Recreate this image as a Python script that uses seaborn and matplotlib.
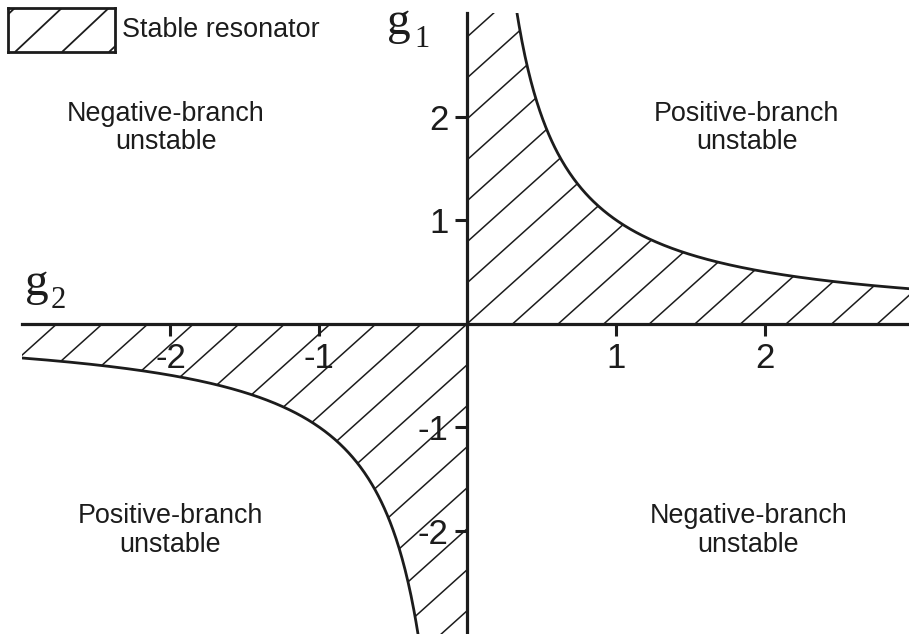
import numpy as np
import matplotlib
matplotlib.use("Agg")
import matplotlib.pyplot as plt
from matplotlib.collections import LineCollection
from matplotlib.patches import PathPatch
from matplotlib.path import Path
import seaborn as sns

# Stability condition 0 < g1*g2 < 1; the boundary is the hyperbola g1*g2 = 1
boundary_product = 1.0
g_limit = 3.0
tick_values = [-2, -1, 1, 2]
tick_labels = ["-2", "-1", "1", "2"]
region_texts = [
    "Negative-branch\nunstable",
    "Positive-branch\nunstable",
    "Positive-branch\nunstable",
    "Negative-branch\nunstable",
]
legend_label = "Stable resonator"

sns.set_theme(style="white")
plt.rcParams["font.family"] = ["Liberation Sans", "DejaVu Sans"]
plt.rcParams["axes.unicode_minus"] = False

W, H = 909, 634
INK = "#1c1c1c"
fig = plt.figure(figsize=(W / 100, H / 100), dpi=100)
fig.patch.set_facecolor("white")

# axes: g2 = -3 at 22 px, 148.5 px per unit horizontally; g1 spans 13..634 px
x_unit = 148.5
ax = fig.add_axes([22 / W, 0, (W - 22) / W, (H - 13) / H])
ax.set_facecolor("none")
ax.set_xlim(-g_limit, -g_limit + (W - 22) / x_unit)
ax.set_ylim(-g_limit, g_limit)

# boundary curves g1 = 1/g2 in the first and third quadrants
g2_pos = np.linspace(boundary_product / g_limit, g_limit, 400)
g1_pos = boundary_product / g2_pos
g2_neg = np.linspace(-g_limit, -boundary_product / g_limit, 400)
g1_neg = boundary_product / g2_neg

sns.lineplot(x=g2_pos, y=g1_pos, sort=False, color=INK, lw=2.0, ax=ax)
sns.lineplot(x=g2_neg, y=g1_neg, sort=False, color=INK, lw=2.0, ax=ax)

# stable region outline used to clip the hatching
verts = ([(0, 0), (0, g_limit)] + list(zip(g2_pos, g1_pos)) + [(g_limit, 0), (0, 0)])
verts2 = ([(0, 0), (-g_limit, 0)] + list(zip(g2_neg, g1_neg)) + [(0, -g_limit), (0, 0)])
codes = [Path.MOVETO] + [Path.LINETO] * (len(verts) - 2) + [Path.CLOSEPOLY]
codes2 = [Path.MOVETO] + [Path.LINETO] * (len(verts2) - 2) + [Path.CLOSEPOLY]
region = PathPatch(Path(verts + verts2, codes + codes2), facecolor="none",
                   edgecolor="none", transform=ax.transData)
ax.add_patch(region)

# diagonal hatch lines through the origin
slope = 1.29
step = 0.396
segs = []
for n in range(-40, 41):
    c = n * step
    segs.append([(-4, slope * -4 + c), (4, slope * 4 + c)])
hatch = LineCollection(segs, colors=INK, linewidths=1.1)
ax.add_collection(hatch)
hatch.set_clip_path(region)

# axes through the origin
for side in ("top", "right"):
    ax.spines[side].set_visible(False)
for side in ("left", "bottom"):
    ax.spines[side].set_position("zero")
    ax.spines[side].set_linewidth(2.3)
    ax.spines[side].set_color(INK)
    ax.spines[side].set_zorder(5)

ax.set_xticks(tick_values)
ax.set_xticklabels(tick_labels)
ax.set_yticks(tick_values)
ax.set_yticklabels(tick_labels)
ax.tick_params(axis="both", direction="out", length=8.5, width=2.2, pad=5,
               labelsize=25, colors=INK, bottom=True, left=True)
ax.grid(False)

# region labels
for txt, (gx, gy) in zip(region_texts, [(-2.03, 1.89), (1.88, 1.89), (-2.0, -2.0), (1.89, -2.0)]):
    ax.text(gx, gy, txt, ha="center", va="center", fontsize=19.4,
            linespacing=1.12, color=INK)

# axis names: serif g with a lowered subscript
serif = ["Liberation Serif", "DejaVu Serif"]
for (gx, gy, sx, sy, sub) in [(387, 34, 414, 47, "1"), (25, 295, 51, 308, "2")]:
    fig.text(gx / W, 1 - gy / H, "g", fontsize=34, family=serif, color=INK,
             ha="left", va="baseline")
    fig.text(sx / W, 1 - sy / H, sub, fontsize=22, family=serif, color=INK,
             ha="left", va="baseline")

# legend swatch
lw_px, lh_px = 107, 44
lax = fig.add_axes([8 / W, 1 - 52 / H, lw_px / W, lh_px / H])
lax.set_xlim(0, lw_px)
lax.set_ylim(0, lh_px)
lax.set_xticks([])
lax.set_yticks([])
lax.set_facecolor("white")
for s in lax.spines.values():
    s.set_linewidth(2.0)
    s.set_color(INK)
lax.grid(False)
sw = [[(x0, 0), (x0 + lh_px / 0.94, lh_px)] for x0 in (-40, 7, 54, 101)]
lax.add_collection(LineCollection(sw, colors=INK, linewidths=1.3))
fig.text(122 / W, 1 - 30 / H, legend_label, fontsize=19.4, color=INK,
         ha="left", va="center")

fig.savefig("out.png", dpi=100, facecolor="white")
